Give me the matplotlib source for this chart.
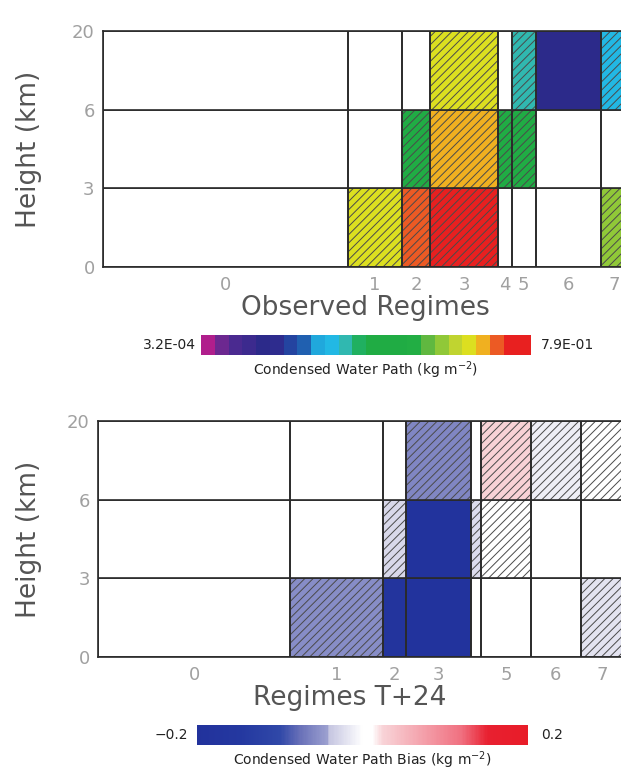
import matplotlib
matplotlib.use('Agg')
import matplotlib.pyplot as plt
import numpy as np
from matplotlib.colors import ListedColormap, LinearSegmentedColormap, LogNorm, Normalize
from matplotlib.cm import ScalarMappable

plt.rcParams['font.family'] = 'DejaVu Sans'
plt.rcParams['hatch.linewidth'] = 0.7

###############################################################################
# Data

# regime labels (x tick labels) and relative frequency of each regime (%)
obs_labels = ['0', '1', '2', '3', '4', '5', '6', '7']
obs_freq = [46.7, 10.4, 5.4, 12.8, 2.7, 4.6, 12.4, 5.0]
fc_labels = ['0', '1', '2', '3', '', '5', '6', '7']
fc_freq = [36.6, 17.6, 4.4, 12.5, 1.9, 9.4, 9.6, 8.0]

# height layers (boundaries shown on the y axis)
layer_labels = ['0', '3', '6', '20']

# observed condensed water path (kg m-2), rows: 0-3, 3-6, 6-20 km
nan = np.nan
obs_cwp = [
    [nan, 0.183, 0.350, 0.671, nan, nan, nan, 0.0952],
    [nan, nan, 0.0359, 0.253, 0.0259, 0.0259, nan, nan],
    [nan, nan, nan, 0.183, nan, 0.00976, 0.00138, 0.00705],
]
obs_hatch = [
    [0, 1, 1, 1, 0, 0, 0, 1],
    [0, 0, 1, 1, 1, 1, 0, 0],
    [0, 0, 0, 1, 0, 1, 0, 1],
]

# T+24 bias of condensed water path (kg m-2)
fc_bias = [
    [nan, -0.055, -0.18, -0.19, nan, nan, nan, -0.02],
    [nan, nan, -0.028, -0.19, -0.025, 0.012, nan, nan],
    [nan, nan, nan, -0.06, nan, 0.025, -0.012, 0.01],
]
fc_hatch = [
    [0, 1, 0, 0, 0, 0, 0, 1],
    [0, 0, 1, 0, 1, 1, 0, 0],
    [0, 0, 0, 1, 0, 1, 1, 1],
]

cwp_min, cwp_max = 3.2e-4, 7.9e-1
bias_min, bias_max = -0.2, 0.2

###############################################################################
# Colour tables

rainbow = ListedColormap([
    '#b01e8c', '#6c2890', '#4a2a90', '#3c2a8e', '#2c2a8a', '#2e2c8e',
    '#2444a0', '#2060b0', '#20a8dc', '#22b8e4', '#30b8b0', '#20b060',
    '#20ac44', '#20ac44', '#20ac44', '#22ae44', '#60b840', '#90c838',
    '#c0d430', '#dcdf20', '#f0b020', '#ec5a24', '#e82020', '#e82020'])
cwp_norm = LogNorm(cwp_min, cwp_max)

bluered = LinearSegmentedColormap.from_list('bwr_idl', [
    (0.0, '#22329c'), (0.13, '#2438a0'), (0.25, '#3048a8'),
    (0.31, '#6870b8'), (0.394, '#9ca0d0'), (0.397, '#c4c4e0'),
    (0.5, '#ffffff'), (0.53, '#ffffff'), (0.56, '#f8d4d8'),
    (0.80, '#f07080'), (0.88, '#e82030'), (1.0, '#e81c28')])
bias_norm = Normalize(bias_min, bias_max)

edge = '#2a2a2a'
hatch_col = '#4a4a4a'
tick_col = '#a0a0a0'
label_col = '#555555'


def draw_panel(ax, freq, labels, values, hatched, cmap, norm):
    freq = np.asarray(freq)
    lefts = np.concatenate([[0], np.cumsum(freq)[:-1]])
    for j in range(3):
        vals = values[j]
        cols = ['white' if np.isnan(v) else cmap(norm(v)) for v in vals]
        # filled cells, hatch drawn in the (lighter) edge colour
        bars = ax.bar(lefts, 1, width=freq, bottom=j, align='edge',
                      color=cols, edgecolor=hatch_col, linewidth=0)
        for b, h in zip(bars, hatched[j]):
            if h:
                b.set_hatch('////')
        # cell borders
        ax.bar(lefts, 1, width=freq, bottom=j, align='edge',
               fill=False, edgecolor=edge, linewidth=1.2)
    ax.set_xlim(0, freq.sum())
    ax.set_ylim(0, 3)
    ax.set_xticks(lefts + freq / 2, labels)
    ax.set_yticks([0, 1, 2, 3], layer_labels)
    ax.tick_params(length=0, labelsize=13, labelcolor=tick_col)
    ax.tick_params(axis='x', pad=6)
    ax.tick_params(axis='y', pad=6)
    for s in ax.spines.values():
        s.set_color(edge)
        s.set_linewidth(1.2)


fig = plt.figure(figsize=(6.21, 7.7), dpi=100)

ax1 = fig.add_axes([103 / 621, 1 - 267.3 / 770, 524 / 621, 236.6 / 770])
draw_panel(ax1, obs_freq, obs_labels, obs_cwp, obs_hatch, rainbow, cwp_norm)

ax2 = fig.add_axes([98.2 / 621, 1 - 657.3 / 770, 524.8 / 621, 236.6 / 770])
draw_panel(ax2, fc_freq, fc_labels, fc_bias, fc_hatch, bluered, bias_norm)

# axis titles
fig.text(29 / 621, 1 - 149 / 770, 'Height (km)', rotation=90, ha='center',
         va='center', fontsize=19, color=label_col)
fig.text(29 / 621, 1 - 539 / 770, 'Height (km)', rotation=90, ha='center',
         va='center', fontsize=19, color=label_col)
fig.text(365 / 621, 1 - 308 / 770, 'Observed Regimes', ha='center',
         va='center', fontsize=19, color=label_col)
fig.text(350 / 621, 1 - 698 / 770, 'Regimes T+24', ha='center',
         va='center', fontsize=19, color=label_col)

# colour bars
cax1 = fig.add_axes([201 / 621, 1 - 355 / 770, 330 / 621, 20 / 770])
cb1 = fig.colorbar(ScalarMappable(cwp_norm, rainbow), cax=cax1,
                   orientation='horizontal')
cb1.outline.set_visible(False)
cb1.set_ticks([])
cb1.minorticks_off()
fig.text(196 / 621, 1 - 345 / 770, '3.2E-04', ha='right', va='center',
         fontsize=10, color='#222222')
fig.text(541 / 621, 1 - 345 / 770, '7.9E-01', ha='left', va='center',
         fontsize=10, color='#222222')
fig.text(366 / 621, 1 - 370 / 770, 'Condensed Water Path (kg m$^{-2}$)',
         ha='center', va='center', fontsize=10, color='#222222')

cax2 = fig.add_axes([197 / 621, 1 - 745 / 770, 331 / 621, 20 / 770])
cb2 = fig.colorbar(ScalarMappable(bias_norm, bluered), cax=cax2,
                   orientation='horizontal')
cb2.outline.set_visible(False)
cb2.set_ticks([])
fig.text(188 / 621, 1 - 735 / 770, '\u22120.2', ha='right', va='center',
         fontsize=10, color='#222222')
fig.text(541 / 621, 1 - 735 / 770, '0.2', ha='left', va='center',
         fontsize=10, color='#222222')
fig.text(362 / 621, 1 - 760 / 770, 'Condensed Water Path Bias (kg m$^{-2}$)',
         ha='center', va='center', fontsize=10, color='#222222')

fig.savefig('out.png', dpi=100)
